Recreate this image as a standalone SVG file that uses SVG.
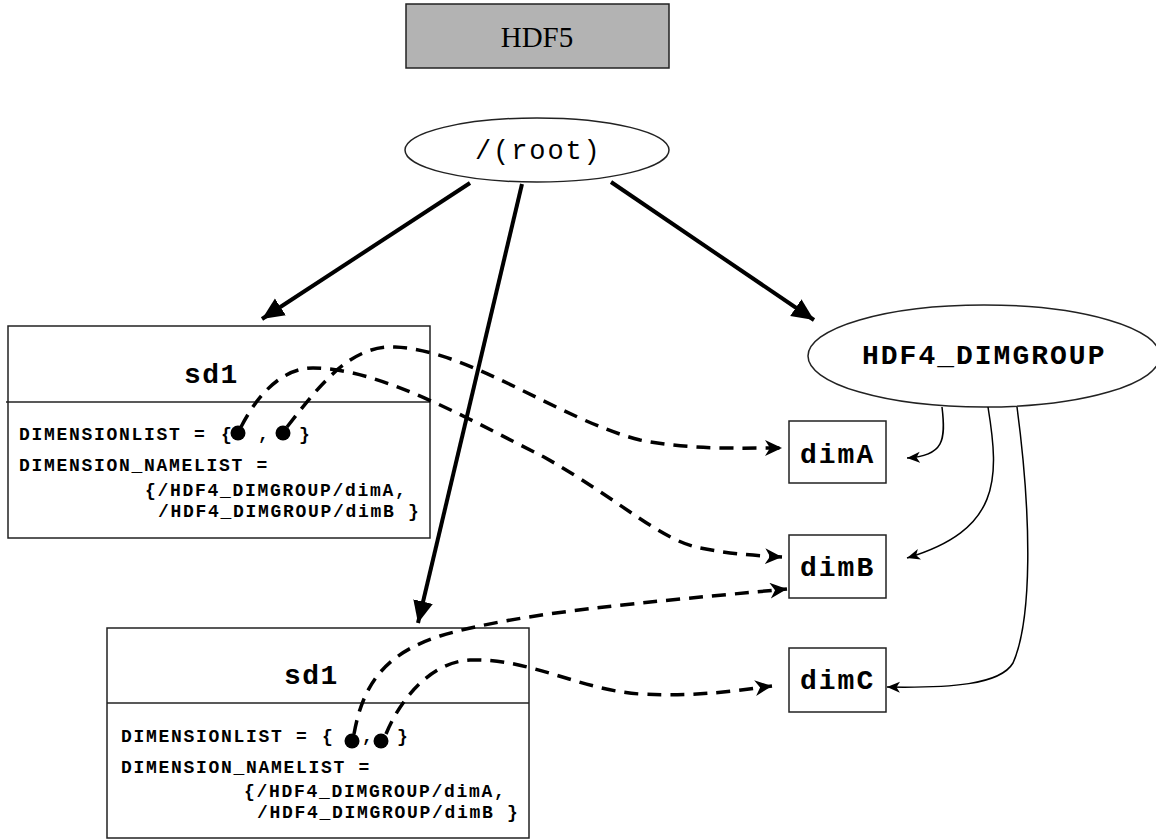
<svg xmlns="http://www.w3.org/2000/svg" width="1156" height="839" viewBox="0 0 1156 839">
  <style>
    .box { fill: #ffffff; stroke: #222; stroke-width: 1.5; }
    .div { stroke: #222; stroke-width: 1.5; }
    .mono { font-family: "Liberation Mono", "Courier New", monospace; fill: #000; }
    .big { font-size: 28px; font-weight: bold; letter-spacing: 2px; }
    .sd { font-size: 28px; font-weight: bold; letter-spacing: 1.5px; }
    .small { font-size: 18px; font-weight: bold; letter-spacing: 1.7px; }
    .solid { fill: none; stroke: #000; stroke-width: 4; }
    .dash { fill: none; stroke: #000; stroke-width: 3.5; stroke-dasharray: 14 9; }
    .thin { fill: none; stroke: #000; stroke-width: 1.5; }
    .dot { fill: #000; }
  </style>
  <defs>
    <marker id="bigArrow" markerUnits="userSpaceOnUse" markerWidth="24" markerHeight="22" refX="22" refY="10" orient="auto">
      <path d="M0,0 L22,10 L0,20 z" fill="#000"/>
    </marker>
    <marker id="dashArrow" markerUnits="userSpaceOnUse" markerWidth="19" markerHeight="18" refX="17" refY="8" orient="auto">
      <path d="M0,0 L17,8 L0,16 L5,8 z" fill="#000"/>
    </marker>
    <marker id="thinArrow" markerUnits="userSpaceOnUse" markerWidth="14" markerHeight="12" refX="13" refY="5.5" orient="auto">
      <path d="M0,0 L13,5.5 L0,11 L3.5,5.5 z" fill="#000"/>
    </marker>
  </defs>

  <g id="hdf5">
    <rect x="406" y="4" width="263" height="64" fill="#b3b3b3" stroke="#222" stroke-width="1.5"/>
    <text x="537" y="47" text-anchor="middle" font-family="Liberation Serif, Times New Roman, serif" font-size="29">HDF5</text>
  </g>

  <g id="root">
    <ellipse cx="537" cy="150" rx="132" ry="32" class="box"/>
    <text x="475" y="159" class="mono" font-size="27" letter-spacing="1.9">/(root)</text>
  </g>

  <g id="hdf4_dimgroup">
    <ellipse cx="984" cy="356" rx="176" ry="51" class="box"/>
    <text x="862" y="364" class="mono big">HDF4_DIMGROUP</text>
  </g>

  <g id="dimA">
    <rect x="789" y="421" width="97" height="62" class="box"/>
    <text x="800" y="463" class="mono big">dimA</text>
  </g>
  <g id="dimB">
    <rect x="789" y="535" width="97" height="63" class="box"/>
    <text x="800" y="576" class="mono big">dimB</text>
  </g>
  <g id="dimC">
    <rect x="789" y="648" width="97" height="64" class="box"/>
    <text x="800" y="689" class="mono big">dimC</text>
  </g>

  <g id="sd1_top">
    <rect x="8" y="326" width="422" height="212" class="box"/>
    <line x1="6" y1="402" x2="430" y2="402" class="div"/>
    <text x="184" y="383" class="mono sd">sd1</text>
    <text x="19" y="440" class="mono small">DIMENSIONLIST = </text>
    <text x="221" y="440" class="mono small">{</text>
    <circle cx="238" cy="433" r="7.5" class="dot"/>
    <text x="258" y="440" class="mono small">,</text>
    <circle cx="283" cy="433" r="7.5" class="dot"/>
    <text x="299" y="440" class="mono small">}</text>
    <text x="19" y="471" class="mono small">DIMENSION_NAMELIST =</text>
    <text x="145" y="496" class="mono small">{/HDF4_DIMGROUP/dimA,</text>
    <text x="158" y="517" class="mono small">/HDF4_DIMGROUP/dimB }</text>
  </g>

  <g id="sd1_bottom">
    <rect x="107" y="628" width="422" height="210" class="box"/>
    <line x1="107" y1="703" x2="529" y2="703" class="div"/>
    <text x="284" y="684" class="mono sd">sd1</text>
    <text x="121" y="742" class="mono small">DIMENSIONLIST = </text>
    <text x="322" y="742" class="mono small">{</text>
    <circle cx="352" cy="741" r="7.5" class="dot"/>
    <text x="362" y="742" class="mono small">,</text>
    <circle cx="381" cy="741" r="7.5" class="dot"/>
    <text x="397" y="742" class="mono small">}</text>
    <text x="121" y="773" class="mono small">DIMENSION_NAMELIST =</text>
    <text x="244" y="797" class="mono small">{/HDF4_DIMGROUP/dimA,</text>
    <text x="257" y="818" class="mono small">/HDF4_DIMGROUP/dimB }</text>
  </g>

  <g id="connectors">
    <line x1="470" y1="183" x2="262" y2="319" class="solid" marker-end="url(#bigArrow)"/>
    <line x1="522" y1="184" x2="418" y2="623" class="solid" marker-end="url(#bigArrow)"/>
    <line x1="611" y1="182" x2="814" y2="320" class="solid" marker-end="url(#bigArrow)"/>

    <path d="M287,427 C320,385 350,345 395,347 C470,350 560,420 640,440 C690,450 740,448 782,448" class="dash" marker-end="url(#dashArrow)"/>
    <path d="M241,427 C260,390 285,368 313,368 C380,368 470,420 544,457 C620,500 660,540 700,548 C730,554 760,556 782,557" class="dash" marker-end="url(#dashArrow)"/>
    <path d="M354,734 C362,690 380,655 440,636 C520,612 650,602 787,589" class="dash" marker-end="url(#dashArrow)"/>
    <path d="M386,734 C400,700 430,662 470,660 C530,658 580,690 640,694 C700,697 740,690 772,686" class="dash" marker-end="url(#dashArrow)"/>

    <path d="M942,407 C946,440 944,456 907,458" class="thin" marker-end="url(#thinArrow)"/>
    <path d="M988,407 C1000,480 1000,530 907,558" class="thin" marker-end="url(#thinArrow)"/>
    <path d="M1017,407 C1032,520 1032,620 1013,663 C1000,685 950,688 887,687" class="thin" marker-end="url(#thinArrow)"/>
  </g>
</svg>
